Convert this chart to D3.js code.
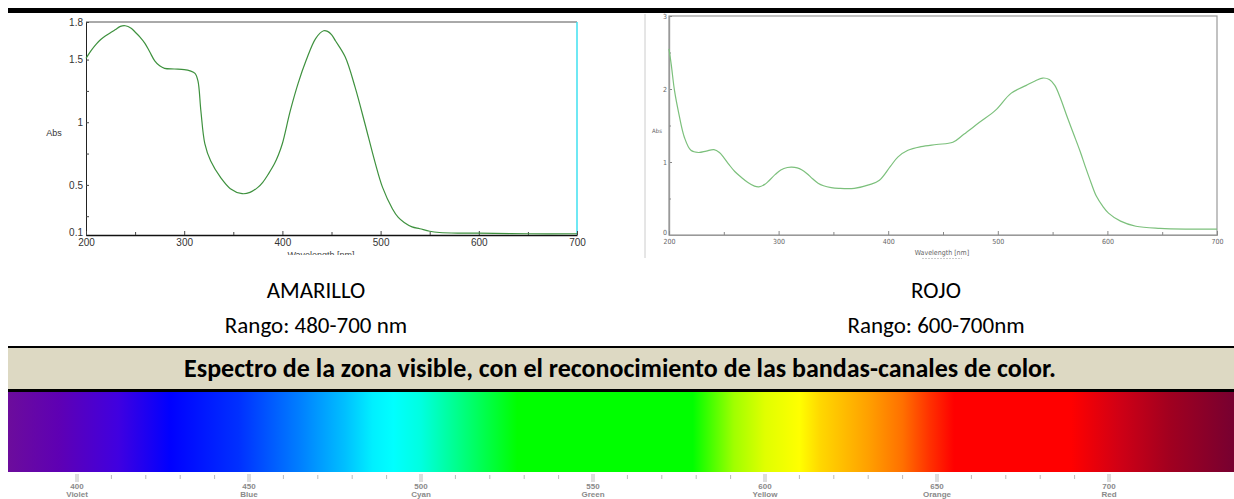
<!DOCTYPE html>
<html>
<head>
<meta charset="utf-8">
<script src="https://cdn.jsdelivr.net/npm/d3@7"></script>
<style>
  body { margin: 0; background: #fff; }
  svg { display: block; }
</style>
</head>
<body>
<div id="chart"></div>
<script>
// AMARILLO spectrum (wavelength nm, absorbance)
const yellowWl  = [200, 205, 210, 215, 220, 226, 230, 235, 240, 246, 250, 255, 260, 265, 270, 275, 280, 290, 300, 306, 311, 314, 317, 321, 327, 337, 347, 359, 367, 375, 380, 386, 392, 396, 400, 408, 416, 424, 434, 442, 446, 450, 454, 464, 474, 484, 494, 502, 512, 518, 524, 532, 540, 550, 560, 580, 600, 650, 700];
const yellowAbs = [1.51, 1.57, 1.62, 1.66, 1.69, 1.72, 1.74, 1.765, 1.77, 1.75, 1.72, 1.68, 1.63, 1.56, 1.49, 1.45, 1.43, 1.425, 1.42, 1.41, 1.39, 1.33, 1.09, 0.83, 0.69, 0.56, 0.47, 0.43, 0.44, 0.48, 0.52, 0.59, 0.67, 0.74, 0.83, 1.09, 1.31, 1.49, 1.67, 1.73, 1.725, 1.70, 1.65, 1.52, 1.28, 0.99, 0.69, 0.48, 0.31, 0.24, 0.20, 0.165, 0.15, 0.13, 0.12, 0.115, 0.115, 0.11, 0.11];

// ROJO spectrum
const redWl  = [200, 202, 205, 209, 214, 220, 227, 234, 241, 246, 250, 255, 260, 266, 272, 278, 282, 287, 291, 297, 302, 308, 312, 317, 321, 326, 331, 336, 341, 348, 355, 369, 383, 392, 402, 409, 418, 430, 444, 459, 469, 483, 498, 512, 526, 534, 541, 547, 552, 557, 563, 569, 575, 580, 585, 590, 596, 601, 612, 626, 648, 673, 700];
const redAbs = [2.55, 2.34, 1.98, 1.66, 1.34, 1.16, 1.13, 1.15, 1.17, 1.13, 1.06, 0.96, 0.87, 0.79, 0.72, 0.67, 0.66, 0.69, 0.74, 0.83, 0.89, 0.925, 0.93, 0.92, 0.895, 0.84, 0.77, 0.71, 0.675, 0.65, 0.64, 0.64, 0.69, 0.75, 0.94, 1.07, 1.16, 1.21, 1.24, 1.27, 1.38, 1.54, 1.71, 1.94, 2.05, 2.11, 2.15, 2.13, 2.05, 1.88, 1.63, 1.39, 1.15, 0.93, 0.72, 0.53, 0.39, 0.30, 0.19, 0.12, 0.09, 0.08, 0.08];

const yellowYTicks = [1.8, 1.5, 1, 0.5, 0.1];
const redYTicks = [0, 1, 2, 3];
const wlTicks = [200, 300, 400, 500, 600, 700];

// visible spectrum bar
const bandNm    = [380, 395, 412, 427, 447, 465, 478, 486, 492, 500, 510, 520, 528, 579, 591, 600, 610, 616, 630, 640, 648, 655, 689, 703, 718, 736];
const bandColor = ["#6c0c9c", "#5e00b4", "#4000e0", "#0000ff", "#0030ff", "#0080ff", "#00c0ff", "#00f0ff", "#00ffff", "#00ffe0", "#00ff90", "#00ff40", "#00ff00", "#00ff00", "#a0ff00", "#e0ff00", "#ffff00", "#ffd800", "#ffa000", "#ff7000", "#ff3000", "#ff0000", "#ff0000", "#d00015", "#a00020", "#780030"];
const bandTicks = [400, 450, 500, 550, 600, 650, 700];
const bandNames = ["Violet", "Blue", "Cyan", "Green", "Yellow", "Orange", "Red"];

const W = 1234, H = 499;
const svg = d3.select("#chart").append("svg").attr("width", W).attr("height", H);

const textFont = "Carlito, Calibri, Lato, sans-serif";
const smooth = d3.curveCatmullRom.alpha(0.5);

// top rule
svg.append("rect").attr("x", 8).attr("y", 8).attr("width", W - 8).attr("height", 5).attr("fill", "#000");

// ---------- left chart (AMARILLO) ----------
const L = { left: 86, right: 577, top: 22, bottom: 235 };
const xL = d3.scaleLinear().domain([200, 700]).range([L.left, L.right]);
const yL = d3.scaleLinear().domain([0.1, 1.8]).range([L.bottom, L.top]);

const gL = svg.append("g");
gL.append("line").attr("x1", L.left).attr("x2", L.right).attr("y1", L.top).attr("y2", L.top)
  .attr("stroke", "#555").attr("stroke-width", 1);
gL.append("line").attr("x1", L.right).attr("x2", L.right).attr("y1", L.top).attr("y2", L.bottom)
  .attr("stroke", "#3fe0f0").attr("stroke-width", 1.5);

const axL = gL.append("g").attr("transform", `translate(${L.left},0)`)
  .call(d3.axisLeft(yL).tickValues(yellowYTicks).tickSizeInner(-3).tickSizeOuter(0).tickPadding(3).tickFormat(d3.format("")));
const axLm = gL.append("g").attr("transform", `translate(${L.left},0)`)
  .call(d3.axisLeft(yL).tickValues([1.25, 0.75, 0.25]).tickSizeInner(-3).tickSizeOuter(0).tickFormat(""));
axLm.select(".domain").remove();
const axLb = gL.append("g").attr("transform", `translate(0,${L.bottom})`)
  .call(d3.axisBottom(xL).tickValues(wlTicks).tickSizeInner(-4).tickSizeOuter(0).tickPadding(4));
const axLbm = gL.append("g").attr("transform", `translate(0,${L.bottom})`)
  .call(d3.axisBottom(xL).tickValues([250, 350, 450, 550, 650]).tickSizeInner(-3).tickSizeOuter(0).tickFormat(""));
axLbm.select(".domain").remove();
[axL, axLm, axLb, axLbm].forEach(a => {
  a.selectAll("text").attr("font-family", "Liberation Sans, Arial, sans-serif").attr("font-size", 10).attr("fill", "#333");
  a.selectAll("line").attr("stroke", "#444");
});
axL.select(".domain").attr("stroke", "#222");
axL.selectAll(".tick text").filter(d => d === 0.1).attr("dy", "0.05em");
axLb.select(".domain").attr("stroke", "#111").attr("stroke-width", 1.5);

gL.append("text").attr("x", 54).attr("y", 136).attr("text-anchor", "middle")
  .attr("font-family", "Liberation Sans, Arial, sans-serif").attr("font-size", 9).attr("fill", "#333").text("Abs");

svg.append("clipPath").attr("id", "cutL").append("rect").attr("x", 0).attr("y", 0).attr("width", 620).attr("height", 255);
gL.append("text").attr("clip-path", "url(#cutL)").attr("x", 321).attr("y", 258).attr("text-anchor", "middle")
  .attr("font-family", "Liberation Sans, Arial, sans-serif").attr("font-size", 9).attr("fill", "#444").text("Wavelength [nm]");

const yellowPts = yellowWl.map((w, i) => [w, yellowAbs[i]]);
gL.append("path").datum(yellowPts)
  .attr("fill", "none").attr("stroke", "#3e913e").attr("stroke-width", 1.2)
  .attr("d", d3.line().x(d => xL(d[0])).y(d => yL(d[1])).curve(smooth));

// ---------- right chart (ROJO) ----------
const R = { left: 669, right: 1217, top: 16, bottom: 235 };
const xR = d3.scaleLinear().domain([200, 700]).range([R.left, R.right]);
const yR = d3.scaleLinear().domain([0, 3]).range([R.bottom, R.top]);

const gR = svg.append("g");
gR.append("line").attr("x1", 645).attr("x2", 645).attr("y1", 14).attr("y2", 258).attr("stroke", "#ccc").attr("stroke-width", 1);
gR.append("rect").attr("x", R.left).attr("y", R.top).attr("width", R.right - R.left).attr("height", R.bottom - R.top)
  .attr("fill", "none").attr("stroke", "#999").attr("stroke-width", 1.2);

const axR = gR.append("g").attr("transform", `translate(${R.left},0)`)
  .call(d3.axisLeft(yR).tickValues(redYTicks).tickSizeInner(-3).tickSizeOuter(0).tickPadding(2).tickFormat(d3.format("d")));
const axRm = gR.append("g").attr("transform", `translate(${R.left},0)`)
  .call(d3.axisLeft(yR).tickValues([0.5, 1.5, 2.5]).tickSizeInner(-2).tickSizeOuter(0).tickFormat(""));
const axRb = gR.append("g").attr("transform", `translate(0,${R.bottom})`)
  .call(d3.axisBottom(xR).tickValues(wlTicks).tickSizeInner(-4).tickSizeOuter(0).tickPadding(4));
const axRbm = gR.append("g").attr("transform", `translate(0,${R.bottom})`)
  .call(d3.axisBottom(xR).tickValues([250, 350, 450, 550, 650]).tickSizeInner(-3).tickSizeOuter(0).tickFormat(""));
[axR, axRm, axRb, axRbm].forEach(a => {
  a.select(".domain").attr("stroke", "#999").attr("stroke-width", 1.2);
  a.selectAll("line").attr("stroke", "#888");
  a.selectAll("text").attr("font-family", "DejaVu Sans Condensed, Liberation Sans Narrow, sans-serif")
    .attr("font-size", 7).attr("fill", "#666");
});
axR.selectAll(".tick text").filter(d => d === 0).attr("dy", "-0.1em");

gR.append("text").attr("x", 657).attr("y", 133).attr("text-anchor", "middle")
  .attr("font-family", "DejaVu Sans Condensed, sans-serif").attr("font-size", 6).attr("fill", "#666").text("Abs");
gR.append("text").attr("x", 942).attr("y", 255).attr("text-anchor", "middle")
  .attr("font-family", "DejaVu Sans Condensed, sans-serif").attr("font-size", 7).attr("fill", "#666").text("Wavelength [nm]");
gR.append("line").attr("x1", 922).attr("x2", 962).attr("y1", 258.5).attr("y2", 258.5)
  .attr("stroke", "#ccc").attr("stroke-width", 1).attr("stroke-dasharray", "2,1");

const redPts = redWl.map((w, i) => [w, redAbs[i]]);
gR.append("path").datum(redPts)
  .attr("fill", "none").attr("stroke", "#7cc07c").attr("stroke-width", 1.2)
  .attr("d", d3.line().x(d => xR(d[0])).y(d => yR(d[1])).curve(smooth));

// ---------- captions ----------
const cap = [
  { x: 316, t1: "AMARILLO", t2: "Rango: 480-700 nm" },
  { x: 936, t1: "ROJO", t2: "Rango: 600-700nm" }
];
cap.forEach(c => {
  svg.append("text").attr("x", c.x).attr("y", 298).attr("text-anchor", "middle")
    .attr("font-family", textFont).attr("font-size", 23).attr("fill", "#000").text(c.t1);
  svg.append("text").attr("x", c.x).attr("y", 333).attr("text-anchor", "middle")
    .attr("font-family", textFont).attr("font-size", 23).attr("fill", "#000").text(c.t2);
});

// ---------- title band ----------
svg.append("rect").attr("x", 8).attr("y", 347).attr("width", W - 8).attr("height", 43).attr("fill", "#ddd9c3");
svg.append("rect").attr("x", 8).attr("y", 346).attr("width", W - 8).attr("height", 2).attr("fill", "#000");
svg.append("rect").attr("x", 8).attr("y", 389).attr("width", W - 8).attr("height", 3).attr("fill", "#000");
svg.append("text").attr("x", 620).attr("y", 377).attr("text-anchor", "middle")
  .attr("font-family", textFont).attr("font-weight", "bold").attr("font-size", 26).attr("fill", "#000")
  .text("Espectro de la zona visible, con el reconocimiento de las bandas-canales de color.");

// ---------- visible spectrum bar ----------
const xS = d3.scaleLinear().domain([400, 700]).range([77, 1109]);
const defs = svg.append("defs");
const grad = defs.append("linearGradient").attr("id", "spec")
  .attr("gradientUnits", "userSpaceOnUse")
  .attr("x1", xS(bandNm[0])).attr("x2", xS(bandNm[bandNm.length - 1])).attr("y1", 0).attr("y2", 0);
const span = xS(bandNm[bandNm.length - 1]) - xS(bandNm[0]);
grad.selectAll("stop").data(bandNm).join("stop")
  .attr("offset", d => (xS(d) - xS(bandNm[0])) / span)
  .attr("stop-color", (d, i) => bandColor[i]);
svg.append("rect").attr("x", 8).attr("y", 392).attr("width", W - 8).attr("height", 80).attr("fill", "url(#spec)");

const minor = d3.range(410, 700, 10).filter(d => d % 50 !== 0);
svg.append("g").selectAll("line").data(minor).join("line")
  .attr("x1", d => xS(d)).attr("x2", d => xS(d)).attr("y1", 475).attr("y2", 479)
  .attr("stroke", "#bbb").attr("stroke-width", 1);
const maj = svg.append("g").selectAll("g").data(bandTicks).join("g")
  .attr("transform", d => `translate(${xS(d)},0)`);
maj.append("line").attr("x1", -1).attr("x2", -1).attr("y1", 474).attr("y2", 482).attr("stroke", "#bbb");
maj.append("line").attr("x1", 1).attr("x2", 1).attr("y1", 474).attr("y2", 482).attr("stroke", "#bbb");
maj.append("text").attr("y", 489).attr("text-anchor", "middle")
  .attr("font-family", "Liberation Sans, Arial, sans-serif").attr("font-weight", "bold")
  .attr("font-size", 8).attr("fill", "#8a8a8a").text(d => d);
maj.append("text").attr("y", 497).attr("text-anchor", "middle")
  .attr("font-family", "Liberation Sans, Arial, sans-serif").attr("font-weight", "bold")
  .attr("font-size", 8).attr("fill", "#8a8a8a").text((d, i) => bandNames[i]);
</script>
</body>
</html>
